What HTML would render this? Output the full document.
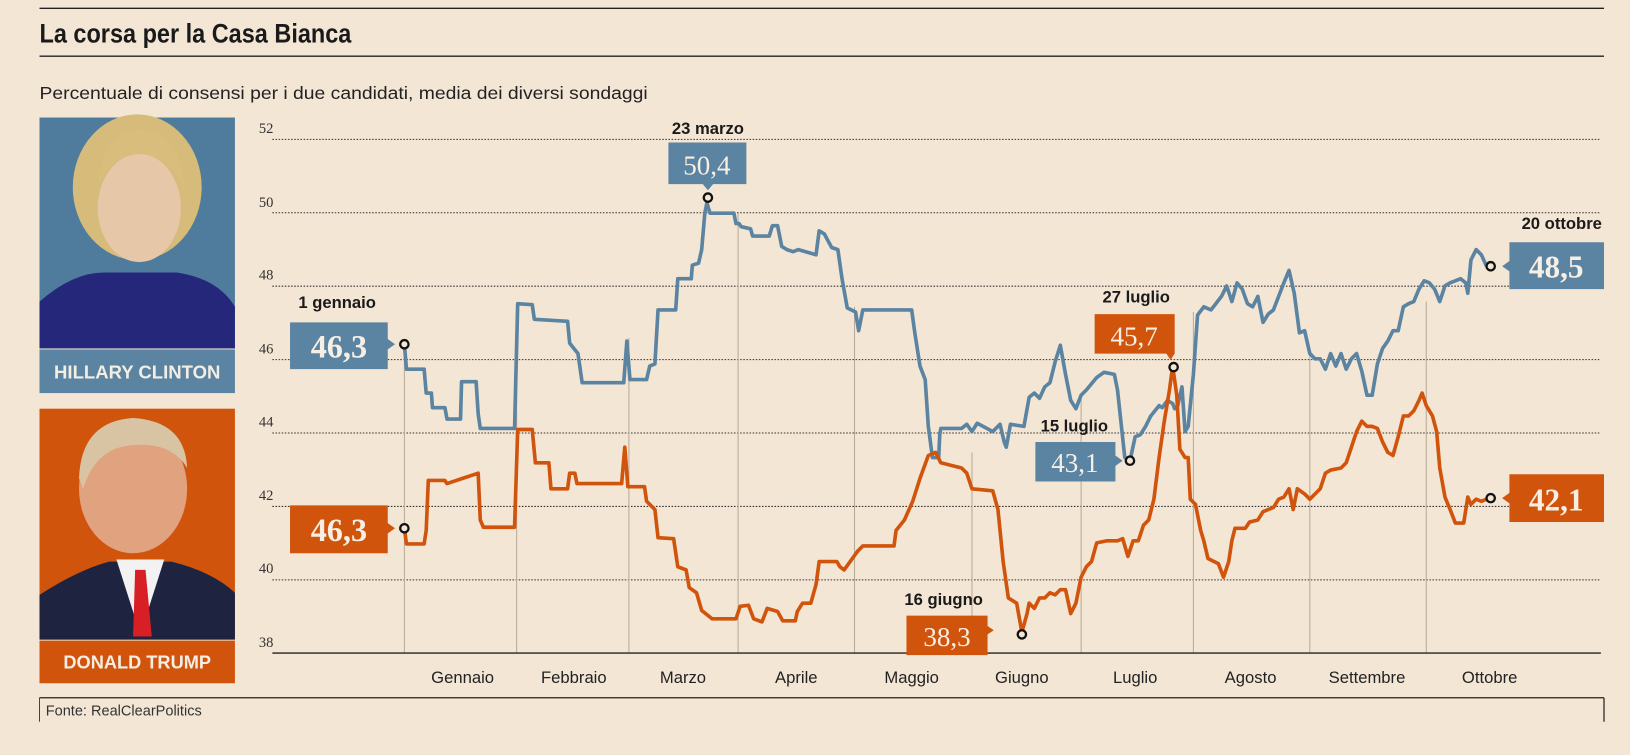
<!DOCTYPE html>
<html><head><meta charset="utf-8"><style>
html,body{margin:0;padding:0;background:#f4e6d5;}
svg{display:block}
.s{font-family:"Liberation Sans Narrow","Liberation Sans",sans-serif}
.t{font-family:"Liberation Sans",sans-serif}
.n{font-family:"Liberation Serif",serif}
</style></head><body>
<svg width="1630" height="755" viewBox="0 0 1568 726" preserveAspectRatio="none" xmlns="http://www.w3.org/2000/svg">
<rect width="1568" height="726" fill="#f4e6d5"/>
<line x1="38" y1="8" x2="1543" y2="8" stroke="#222" stroke-width="1.3"/>
<text x="38" y="41" class="t" font-weight="bold" font-size="26" fill="#1a1a1a" textLength="300" lengthAdjust="spacingAndGlyphs">La corsa per la Casa Bianca</text>
<line x1="38" y1="54" x2="1543" y2="54" stroke="#222" stroke-width="1.3"/>
<text x="38" y="95" class="s" font-size="17" fill="#222" textLength="585" lengthAdjust="spacingAndGlyphs">Percentuale di consensi per i due candidati, media dei diversi sondaggi</text>

<!-- Clinton panel -->
<rect x="38" y="113" width="188" height="222" fill="#4f7c9c"/>
<path d="M38 290 Q70 262 100 262 L170 262 Q210 268 226 295 L226 335 L38 335 Z" fill="#25287a"/>
<ellipse cx="132" cy="180" rx="62" ry="70" fill="#d6bb7a"/>
<ellipse cx="134" cy="200" rx="40" ry="52" fill="#e6c7a8"/>
<path d="M94 180 Q100 120 140 125 Q175 130 178 185 Q165 150 134 148 Q105 150 94 180Z" fill="#d8bd7c"/>
<rect x="38" y="336" width="188" height="42" fill="#5a84a2"/>
<text x="132" y="364" text-anchor="middle" class="s" font-weight="bold" font-size="18" fill="#f4ede2" textLength="160" lengthAdjust="spacingAndGlyphs">HILLARY CLINTON</text>

<!-- Trump panel -->
<rect x="38" y="393" width="188" height="222" fill="#d1540d"/>
<path d="M38 572 Q75 548 105 540 L165 540 Q205 550 226 570 L226 615 L38 615 Z" fill="#1e2440"/>
<path d="M112 538 L135 610 L158 538 Z" fill="#f2f2f2"/>
<path d="M130 548 L140 548 L146 612 L128 612 Z" fill="#d81f26"/>
<ellipse cx="128" cy="470" rx="52" ry="62" fill="#e1a27f"/>
<path d="M76 460 Q78 405 128 402 Q178 405 180 450 Q165 425 128 428 Q92 430 80 470Z" fill="#d8c3a2"/>
<rect x="38" y="616" width="188" height="41" fill="#d1540d"/>
<text x="132" y="643" text-anchor="middle" class="s" font-weight="bold" font-size="18" fill="#f4ede2" textLength="142" lengthAdjust="spacingAndGlyphs">DONALD TRUMP</text>

<!-- gridlines -->
<g stroke="#333" stroke-width="1" stroke-dasharray="1.5,1.5">
<line x1="262" y1="134" x2="1540" y2="134"/>
<line x1="262" y1="204.6" x2="1540" y2="204.6"/>
<line x1="262" y1="275.2" x2="1540" y2="275.2"/>
<line x1="262" y1="345.8" x2="1540" y2="345.8"/>
<line x1="262" y1="416.4" x2="1540" y2="416.4"/>
<line x1="262" y1="487" x2="1540" y2="487"/>
<line x1="262" y1="557.6" x2="1540" y2="557.6"/>
</g>
<g class="n" font-size="14" fill="#333">
<text x="249" y="128">52</text><text x="249" y="199">50</text><text x="249" y="269">48</text>
<text x="249" y="340">46</text><text x="249" y="410">44</text><text x="249" y="481">42</text>
<text x="249" y="551">40</text><text x="249" y="622">38</text>
</g>
<g stroke="#b8aa98" stroke-width="1">
<line x1="389" y1="340" x2="389" y2="628"/><line x1="497" y1="292" x2="497" y2="628"/>
<line x1="605" y1="325" x2="605" y2="628"/><line x1="710" y1="205" x2="710" y2="628"/>
<line x1="822" y1="295" x2="822" y2="628"/><line x1="935" y1="435" x2="935" y2="628"/>
<line x1="1040" y1="380" x2="1040" y2="628"/><line x1="1148" y1="300" x2="1148" y2="628"/>
<line x1="1260" y1="340" x2="1260" y2="628"/><line x1="1372" y1="290" x2="1372" y2="628"/>
</g>
<line x1="262" y1="628" x2="1540" y2="628" stroke="#222" stroke-width="1.3"/>
<g class="s" font-size="16" fill="#222" text-anchor="middle">
<text x="445" y="657">Gennaio</text><text x="552" y="657">Febbraio</text><text x="657" y="657">Marzo</text>
<text x="766" y="657">Aprile</text><text x="877" y="657">Maggio</text><text x="983" y="657">Giugno</text>
<text x="1092" y="657">Luglio</text><text x="1203" y="657">Agosto</text><text x="1315" y="657">Settembre</text>
<text x="1433" y="657">Ottobre</text>
</g>

<!-- series -->
<polyline fill="none" stroke="#5a84a2" stroke-width="3.5" stroke-linejoin="round" points="389,331 391,355 408,355 410,378 415,378 416,392 428,392 430,403 443,403 444,367 458,367 460,398 462,412 495,412 498,292 512,293 514,307 546,309 548,330 556,340 560,368 600,368 603,328 606,365 622,365 625,352 630,350 633,298 650,298 652,268 665,268 666,255 672,253 675,240 678,205 680,195 683,205 706,205 708,215 711,215 713,218 722,220 724,227 740,227 743,217 748,217 752,237 757,240 763,242 768,240 785,245 788,222 793,225 800,238 806,240 810,268 815,296 823,300 826,318 830,298 877,298 880,320 885,352 890,365 893,410 897,440 903,440 904,418 905,412 925,412 930,408 935,415 940,407 955,415 962,408 966,425 968,430 972,408 985,410 990,382 995,378 1000,383 1005,372 1010,368 1015,348 1020,332 1025,360 1030,385 1035,393 1040,380 1045,375 1055,363 1062,358 1072,360 1075,375 1082,440 1087,443 1092,420 1097,418 1102,410 1107,400 1115,390 1118,392 1123,385 1128,388 1130,393 1133,390 1137,372 1140,415 1143,410 1148,360 1152,303 1158,295 1165,298 1175,285 1180,275 1185,290 1190,272 1195,278 1200,292 1205,295 1210,285 1215,310 1220,302 1225,298 1230,285 1235,272 1240,260 1245,282 1250,320 1255,318 1260,340 1265,345 1270,345 1275,355 1280,340 1285,352 1290,340 1295,355 1300,345 1305,340 1310,357 1315,380 1320,380 1325,350 1330,335 1335,328 1340,318 1345,318 1350,295 1355,292 1360,290 1365,278 1370,270 1375,272 1380,278 1385,290 1390,275 1395,272 1400,270 1405,268 1410,272 1412,282 1415,250 1420,240 1425,245 1430,256"/>
<polyline fill="none" stroke="#d1540d" stroke-width="3.5" stroke-linejoin="round" points="389,508 391,523 408,523 410,510 412,462 428,462 430,465 445,460 460,455 462,500 465,507 495,507 498,413 512,413 515,445 528,445 530,470 546,470 548,455 553,455 555,465 598,465 601,430 604,468 620,468 622,482 630,490 633,517 648,518 652,545 660,548 663,565 670,570 675,587 685,595 708,595 712,583 720,582 725,595 733,598 738,585 748,588 753,597 765,597 767,588 772,580 780,580 785,562 788,540 805,540 808,545 812,548 825,530 830,525 860,525 862,510 870,500 878,482 885,460 893,438 900,435 905,445 925,450 930,455 935,470 955,472 960,490 965,540 970,575 978,580 983,608 988,590 990,580 995,585 1000,575 1005,575 1010,570 1015,572 1020,567 1025,567 1030,590 1035,580 1040,555 1045,545 1050,540 1055,522 1065,520 1075,520 1080,518 1085,535 1090,520 1095,520 1100,505 1105,500 1110,480 1115,440 1120,405 1125,375 1128,352 1132,380 1135,432 1140,440 1143,440 1145,480 1150,485 1155,510 1158,520 1162,537 1168,540 1172,542 1177,555 1182,540 1185,520 1188,508 1198,508 1202,502 1210,500 1215,492 1225,488 1230,480 1235,478 1240,470 1244,490 1248,470 1255,475 1260,480 1270,470 1275,455 1280,452 1290,450 1295,445 1300,430 1305,415 1310,405 1315,410 1320,410 1325,412 1330,425 1335,435 1340,438 1345,420 1350,400 1355,400 1360,395 1365,385 1368,378 1372,390 1378,400 1382,415 1385,450 1390,478 1395,490 1400,503 1408,503 1412,478 1415,485 1420,480 1425,482 1430,480"/>

<g fill="#f4e6d5" stroke="#111" stroke-width="2.2">
<circle cx="389" cy="331" r="4"/><circle cx="681" cy="190" r="4"/><circle cx="1434" cy="256" r="4"/>
<circle cx="1087" cy="443" r="4"/><circle cx="1129" cy="353" r="4"/><circle cx="389" cy="508" r="4"/>
<circle cx="983" cy="610" r="4"/><circle cx="1434" cy="479" r="4"/>
</g>

<!-- callouts -->
<g class="s" font-weight="bold" font-size="16" fill="#1a1a1a">
<text x="287" y="296">1 gennaio</text>
<text x="681" y="129" text-anchor="middle">23 marzo</text>
<text x="1541" y="220" text-anchor="end">20 ottobre</text>
<text x="1093" y="291" text-anchor="middle">27 luglio</text>
<text x="1001" y="415">15 luglio</text>
<text x="870" y="582">16 giugno</text>
</g>
<g fill="#5a84a2">
<path d="M279 310 H373 V326 L380 331 L373 336 V355 H279Z"/>
<path d="M643 137 H718 V177 H686 L681 183 L676 177 H643Z"/>
<path d="M1452 233 H1543 V278 H1452 V261 L1445 256 L1452 251Z"/>
<path d="M996 425 H1073 V438 L1080 443 L1073 448 V463 H996Z"/>
</g>
<g fill="#d1540d">
<path d="M1053 302 H1130 V340 L1126 346 L1122 340 H1053Z"/>
<path d="M279 486 H373 V503 L380 508 L373 513 V532 H279Z"/>
<path d="M872 592 H950 V602 L956 606 L950 610 V630 H872Z"/>
<path d="M1452 456 H1543 V502 H1452 V484 L1445 479 L1452 474Z"/>
</g>
<g class="n" fill="#f7efe3" text-anchor="middle">
<text x="326" y="344" font-size="31" font-weight="bold">46,3</text>
<text x="680" y="168" font-size="26">50,4</text>
<text x="1497" y="267" font-size="30" font-weight="bold">48,5</text>
<text x="1091" y="332" font-size="26">45,7</text>
<text x="1034" y="454" font-size="26">43,1</text>
<text x="326" y="520" font-size="31" font-weight="bold">46,3</text>
<text x="911" y="621" font-size="26">38,3</text>
<text x="1497" y="491" font-size="30" font-weight="bold">42,1</text>
</g>

<!-- footer -->
<line x1="38" y1="671" x2="1543" y2="671" stroke="#222" stroke-width="1.2"/>
<line x1="1543" y1="671" x2="1543" y2="694" stroke="#222" stroke-width="1.2"/>
<line x1="38" y1="671" x2="38" y2="694" stroke="#222" stroke-width="0.8"/>
<text x="44" y="688" class="s" font-size="14" fill="#333">Fonte: RealClearPolitics</text>
</svg>
</body></html>
